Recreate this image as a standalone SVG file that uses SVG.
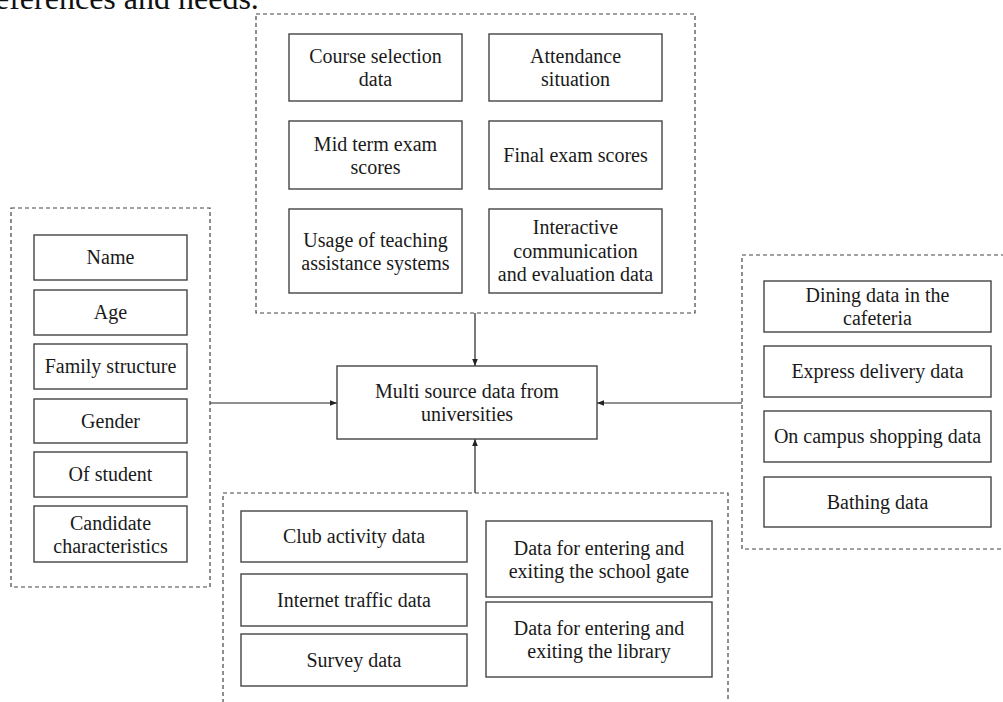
<svg xmlns="http://www.w3.org/2000/svg" width="1003" height="702" viewBox="0 0 1003 702">
<defs>
<style>
.bg{fill:#ffffff}
.grp{fill:none;stroke:#444;stroke-width:1.2;stroke-dasharray:4 3}
.box{fill:#ffffff;stroke:#444;stroke-width:1.4}
.t{font-family:"Liberation Serif","Times New Roman",serif;font-size:20px;fill:#1a1a1a;text-anchor:middle}
.top{font-family:"Liberation Serif","Times New Roman",serif;font-size:32px;fill:#111}
.c{stroke:#222;stroke-width:1.2;fill:none}
</style>
<marker id="ah" viewBox="0 0 10 10" refX="10" refY="5" markerWidth="7" markerHeight="7" markerUnits="userSpaceOnUse" orient="auto">
<path d="M0,1 L10,5 L0,9 Z" fill="#222"/>
</marker>
</defs>
<rect class="bg" x="0" y="0" width="1003" height="702"/>
<text class="top" x="-5" y="9">eferences and needs.</text>

<g id="group-top">
<rect class="grp" x="256" y="14" width="439" height="299"/>
</g>
<g id="group-left">
<rect class="grp" x="11" y="208" width="199" height="379"/>
</g>
<g id="group-right">
<rect class="grp" x="742" y="255" width="280" height="294"/>
</g>
<g id="group-bottom">
<rect class="grp" x="223" y="493" width="505" height="230"/>
</g>

<g id="connectors">
<line class="c" x1="475" y1="313" x2="475" y2="366" marker-end="url(#ah)"/>
<line class="c" x1="210" y1="403" x2="337" y2="403" marker-end="url(#ah)"/>
<line class="c" x1="742" y1="403" x2="597" y2="403" marker-end="url(#ah)"/>
<line class="c" x1="475" y1="493" x2="475" y2="439" marker-end="url(#ah)"/>
</g>

<g id="center">
<rect class="box" x="337" y="366" width="260" height="73"/>
<text class="t" x="467" y="398">Multi source data from</text>
<text class="t" x="467" y="421">universities</text>
</g>

<g id="course-selection">
<rect class="box" x="289" y="34" width="173" height="67"/>
<text class="t" x="375.5" y="63">Course selection</text>
<text class="t" x="375.5" y="86">data</text>
</g>
<g id="attendance">
<rect class="box" x="489" y="34" width="173" height="67"/>
<text class="t" x="575.5" y="63">Attendance</text>
<text class="t" x="575.5" y="86">situation</text>
</g>
<g id="midterm">
<rect class="box" x="289" y="121" width="173" height="68"/>
<text class="t" x="375.5" y="150.5">Mid term exam</text>
<text class="t" x="375.5" y="173.5">scores</text>
</g>
<g id="final">
<rect class="box" x="489" y="121" width="173" height="68"/>
<text class="t" x="575.5" y="162">Final exam scores</text>
</g>
<g id="usage">
<rect class="box" x="289" y="209" width="173" height="84"/>
<text class="t" x="375.5" y="246.5">Usage of teaching</text>
<text class="t" x="375.5" y="269.5">assistance systems</text>
</g>
<g id="interactive">
<rect class="box" x="489" y="209" width="173" height="84"/>
<text class="t" x="575.5" y="234">Interactive</text>
<text class="t" x="575.5" y="257.5">communication</text>
<text class="t" x="575.5" y="281">and evaluation data</text>
</g>

<g id="name">
<rect class="box" x="34" y="235" width="153" height="45"/>
<text class="t" x="110.5" y="264">Name</text>
</g>
<g id="age">
<rect class="box" x="34" y="290" width="153" height="45"/>
<text class="t" x="110.5" y="319">Age</text>
</g>
<g id="family">
<rect class="box" x="34" y="344" width="153" height="45"/>
<text class="t" x="110.5" y="373">Family structure</text>
</g>
<g id="gender">
<rect class="box" x="34" y="399" width="153" height="44"/>
<text class="t" x="110.5" y="427.5">Gender</text>
</g>
<g id="of-student">
<rect class="box" x="34" y="452" width="153" height="45"/>
<text class="t" x="110.5" y="481">Of student</text>
</g>
<g id="candidate">
<rect class="box" x="34" y="506" width="153" height="56"/>
<text class="t" x="110.5" y="529.5">Candidate</text>
<text class="t" x="110.5" y="552.5">characteristics</text>
</g>

<g id="dining">
<rect class="box" x="764" y="281" width="227" height="51"/>
<text class="t" x="877.5" y="302">Dining data in the</text>
<text class="t" x="877.5" y="325">cafeteria</text>
</g>
<g id="express">
<rect class="box" x="764" y="346" width="227" height="51"/>
<text class="t" x="877.5" y="378">Express delivery data</text>
</g>
<g id="shopping">
<rect class="box" x="764" y="411" width="227" height="51"/>
<text class="t" x="877.5" y="443">On campus shopping data</text>
</g>
<g id="bathing">
<rect class="box" x="764" y="477" width="227" height="50"/>
<text class="t" x="877.5" y="508.5">Bathing data</text>
</g>

<g id="club">
<rect class="box" x="241" y="511" width="226" height="51"/>
<text class="t" x="354" y="543">Club activity data</text>
</g>
<g id="internet">
<rect class="box" x="241" y="574" width="226" height="52"/>
<text class="t" x="354" y="606.5">Internet traffic data</text>
</g>
<g id="survey">
<rect class="box" x="241" y="634" width="226" height="52"/>
<text class="t" x="354" y="666.5">Survey data</text>
</g>
<g id="gate">
<rect class="box" x="486" y="521" width="226" height="76"/>
<text class="t" x="599" y="554.5">Data for entering and</text>
<text class="t" x="599" y="577.5">exiting the school gate</text>
</g>
<g id="library">
<rect class="box" x="486" y="602" width="226" height="75"/>
<text class="t" x="599" y="635">Data for entering and</text>
<text class="t" x="599" y="658">exiting the library</text>
</g>
</svg>
